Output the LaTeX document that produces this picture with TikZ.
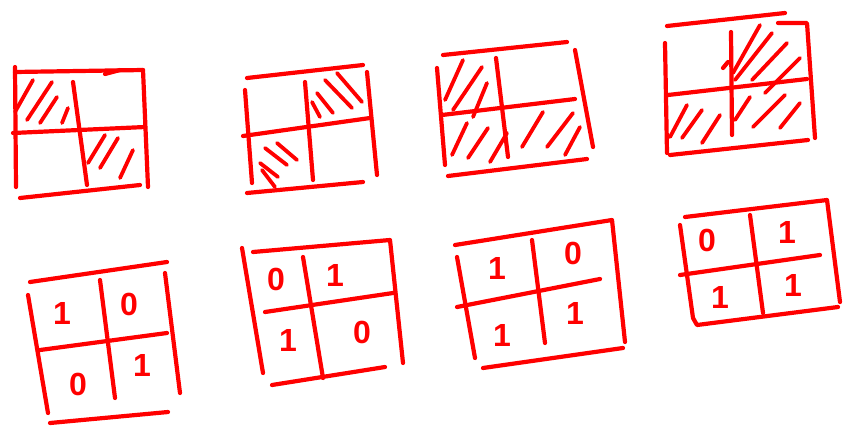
\documentclass[tikz,border=0pt]{standalone}
\usepackage{fontspec}
\setsansfont{Liberation Sans}
\usepackage{tikz}

\begin{document}
\begin{tikzpicture}[x=1pt, y=-1pt,
  stroke/.style={draw=red, line width=4.2pt, line cap=round, line join=round},
  hatch/.style={draw=red, line width=3.8pt, line cap=round},
  digit/.style={text=red, inner sep=0pt, font=\fontsize{32}{32}\sffamily\bfseries}
]
\useasboundingbox[fill=white] (0,0) rectangle (845,426);

% Top row, first grid (top-left and bottom-right hatched)
\draw[stroke] (15,72) -- (143,70);
\draw[stroke] (15,67) -- (16,187);
\draw[stroke] (143,70) -- (148,187);
\draw[stroke] (20,198) -- (140,185);
\draw[stroke] (13,133) -- (145,127);
\draw[stroke] (73,82) -- (87,185);
\draw[stroke] (105,74) -- (120,70);
\draw[hatch] (15,112) -- (33,80);
\draw[hatch] (27,120) -- (52,82);
\draw[hatch] (40,123) -- (57,97);
\draw[hatch] (62,123) -- (68,108);
\draw[hatch] (88,163) -- (105,135);
\draw[hatch] (100,168) -- (118,138);
\draw[hatch] (120,178) -- (133,150);

% Top row, second grid (top-right and bottom-left hatched)
\draw[stroke] (247,78) -- (363,65);
\draw[stroke] (245,90) -- (252,183);
\draw[stroke] (247,193) -- (363,182);
\draw[stroke] (367,72) -- (377,175);
\draw[stroke] (243,136) -- (370,118);
\draw[stroke] (305,82) -- (313,180);
\draw[hatch] (312,102) -- (320,117);
\draw[hatch] (317,93) -- (333,113);
\draw[hatch] (325,80) -- (352,108);
\draw[hatch] (337,73) -- (362,102);
\draw[hatch] (265,148) -- (287,165);
\draw[hatch] (277,143) -- (297,160);
\draw[hatch] (260,163) -- (278,177);
\draw[hatch] (262,170) -- (275,187);

% Top row, third grid (top-left and bottom row hatched)
\draw[stroke] (443,55) -- (567,42);
\draw[stroke] (437,68) -- (445,165);
\draw[stroke] (575,50) -- (593,147);
\draw[stroke] (448,176) -- (587,159);
\draw[stroke] (442,115) -- (575,99);
\draw[stroke] (496,58) -- (508,157);
\draw[hatch] (445,100) -- (463,60);
\draw[hatch] (453,110) -- (482,67);
\draw[hatch] (473,117) -- (487,83);
\draw[hatch] (452,155) -- (467,123);
\draw[hatch] (468,158) -- (488,128);
\draw[hatch] (490,162) -- (507,133);
\draw[hatch] (522,147) -- (543,112);
\draw[hatch] (547,147) -- (573,113);
\draw[hatch] (565,155) -- (580,127);

% Top row, fourth grid (all but top-left hatched)
\draw[stroke] (667,26) -- (785,13);
\draw[stroke] (665,43) -- (667,153);
\draw[stroke] (778,23) -- (807,23) -- (815,138);
\draw[stroke] (670,155) -- (808,140);
\draw[stroke] (668,95) -- (807,79);
\draw[stroke] (723,68) -- (728,62);
\draw[stroke] (731,32) -- (732,135);
\draw[hatch] (733,73) -- (760,25);
\draw[hatch] (735,80) -- (772,33);
\draw[hatch] (752,80) -- (787,43);
\draw[hatch] (765,93) -- (800,58);
\draw[hatch] (670,137) -- (687,105);
\draw[hatch] (682,138) -- (702,110);
\draw[hatch] (702,143) -- (720,115);
\draw[hatch] (735,120) -- (750,97);
\draw[hatch] (753,127) -- (785,95);
\draw[hatch] (780,128) -- (800,103);

% Bottom row, first grid
\draw[stroke] (30,282) -- (167,262);
\draw[stroke] (28,295) -- (48,413);
\draw[stroke] (165,273) -- (180,393);
\draw[stroke] (50,423) -- (168,412);
\draw[stroke] (40,350) -- (167,333);
\draw[stroke] (100,280) -- (115,398);
\node[digit] (g5a) at (62,313) {1};
\node[digit] (g5b) at (129,304) {0};
\node[digit] (g5c) at (78,384) {0};
\node[digit] (g5d) at (142,365) {1};

% Bottom row, second grid
\draw[stroke] (253,252) -- (390,240) -- (403,363);
\draw[stroke] (242,248) -- (263,373);
\draw[stroke] (272,385) -- (385,367);
\draw[stroke] (265,312) -- (393,293);
\draw[stroke] (303,257) -- (323,378);
\node[digit] (g6a) at (276,279) {0};
\node[digit] (g6b) at (335,275) {1};
\node[digit] (g6c) at (288,340) {1};
\node[digit] (g6d) at (362,332) {0};

% Bottom row, third grid
\draw[stroke] (455,245) -- (612,220) -- (625,342);
\draw[stroke] (457,257) -- (475,358);
\draw[stroke] (483,368) -- (623,348);
\draw[stroke] (457,307) -- (600,279);
\draw[stroke] (532,240) -- (545,343);
\node[digit] (g7a) at (497,268) {1};
\node[digit] (g7b) at (573,253) {0};
\node[digit] (g7c) at (502,335) {1};
\node[digit] (g7d) at (575,313) {1};

% Bottom row, fourth grid
\draw[stroke] (685,217) -- (827,200) -- (840,302);
\draw[stroke] (680,225) -- (693,318) -- (697,325) -- (838,307);
\draw[stroke] (680,275) -- (820,255);
\draw[stroke] (750,215) -- (763,313);
\node[digit] (g8a) at (707,240) {0};
\node[digit] (g8b) at (787,232) {1};
\node[digit] (g8c) at (720,297) {1};
\node[digit] (g8d) at (793,285) {1};

\end{tikzpicture}
\end{document}
